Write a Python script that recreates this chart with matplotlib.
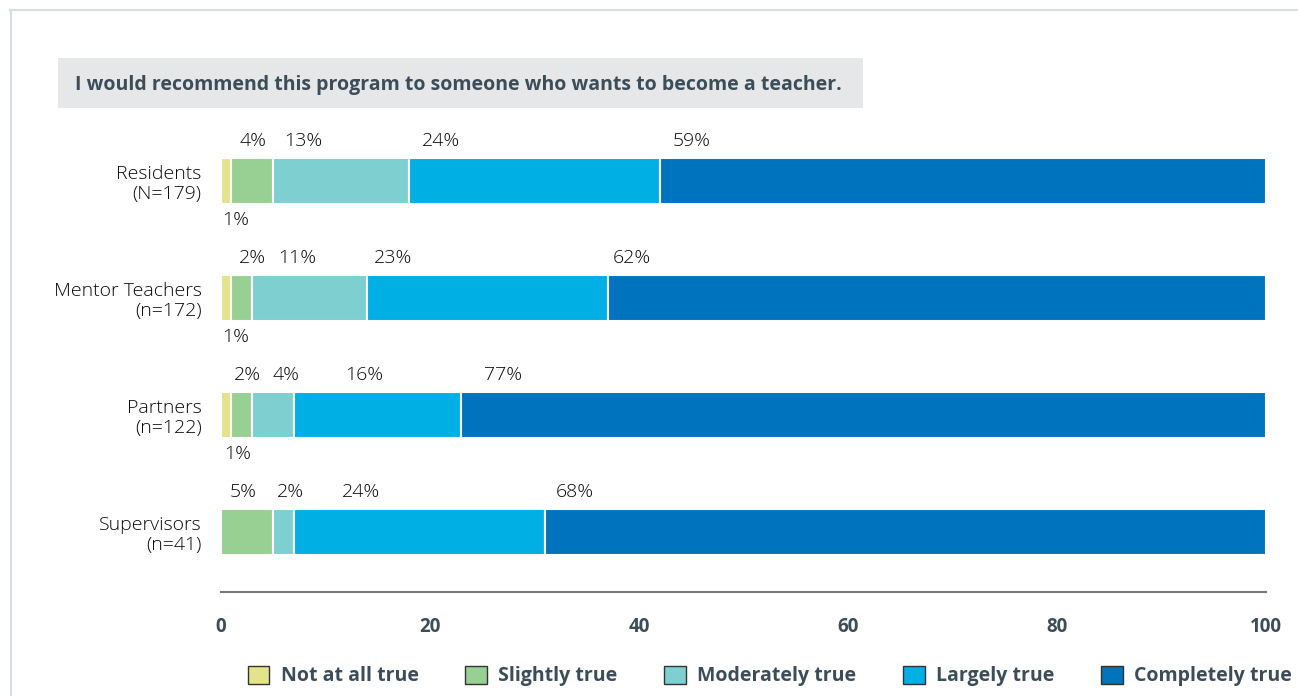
import matplotlib.pyplot as plt
from matplotlib.patches import Patch, Rectangle
from matplotlib.lines import Line2D
import numpy as np

plt.rcParams["font.family"] = ["Open Sans", "DejaVu Sans"]

# data
groups = ['Residents\n(N=179)', 'Mentor Teachers\n(n=172)', 'Partners\n(n=122)', 'Supervisors\n(n=41)']
responses = ['Not at all true', 'Slightly true', 'Moderately true', 'Largely true', 'Completely true']
# segment widths as drawn (percent)
not_at_all = [1, 1, 1, 0]
slightly = [4, 2, 2, 5]
moderately = [13, 11, 4, 2]
largely = [24, 23, 16, 24]
completely = [58, 63, 77, 69]
# printed labels
labels = [['1%', '4%', '13%', '24%', '59%'],
          ['1%', '2%', '11%', '23%', '62%'],
          ['1%', '2%', '4%', '16%', '77%'],
          ['', '5%', '2%', '24%', '68%']]
ticks = [0, 20, 40, 60, 80, 100]

colors = ['#e3e48a', '#98cf93', '#7dcfd0', '#00b0e4', '#0073bf']
# label nudges from segment start (manual placement in the original)
nudge = [[0.1, 0.8, 1.0, 1.2, 1.2],
         [0.1, 0.7, 2.5, 0.6, 0.5],
         [0.3, 0.2, 1.9, 4.9, 2.2],
         [0.0, 0.8, 0.3, 4.6, 1.0]]

title_col = '#3b4d58'
text_col = '#0a0a0a'
fig = plt.figure(figsize=(12.98, 6.96), dpi=100, facecolor='white')
ax = fig.add_axes([221 / 1298, 104 / 696, 1045 / 1298, 472 / 696])

series = [not_at_all, slightly, moderately, largely, completely]
y = np.arange(len(groups))
left = np.zeros(len(groups))
starts = []
for vals, c in zip(series, colors):
    vals = np.array(vals, dtype=float)
    ax.barh(y, vals, left=left, height=0.4, color=c, edgecolor='white', linewidth=1.5)
    starts.append(left.copy())
    left += vals

for gi in range(len(groups)):
    for si in range(len(series)):
        txt = labels[gi][si]
        if not txt:
            continue
        x = starts[si][gi] + nudge[gi][si]
        if si == 0:
            ax.text(x, y[gi] + 0.33, txt, ha='left', va='center', fontsize=14,
                    fontweight='light', color=text_col)
        else:
            ax.text(x, y[gi] - 0.345, txt, ha='left', va='center', fontsize=14,
                    fontweight='light', color=text_col)

ax.set_xlim(0, 100)
ax.set_ylim(3.513, -0.521)
ax.set_yticks(y)
ax.set_yticklabels(groups, fontsize=14, fontweight='light', color=text_col, linespacing=1.15)
ax.set_xticks(ticks)
ax.set_xticklabels([str(t) for t in ticks], fontsize=13.5, fontweight='bold', color=title_col)
ax.tick_params(axis='both', length=0)
ax.tick_params(axis='y', pad=14)
ax.tick_params(axis='x', pad=18)
for s in ['top', 'right', 'left']:
    ax.spines[s].set_visible(False)
ax.spines['bottom'].set_color('#777777')
ax.spines['bottom'].set_linewidth(1.5)

# title box
fig.patches.append(Rectangle((58 / 1298, (696 - 108) / 696), 805 / 1298, 50 / 696,
                             transform=fig.transFigure, facecolor='#e6e7e8', edgecolor='none'))
fig.text(75 / 1298, (696 - 85) / 696, 'I would recommend this program to someone who wants to become a teacher.',
         fontsize=14, fontweight='bold', color=title_col, ha='left', va='center')

# frame border (top and left)
fig.lines.append(Line2D([10 / 1298, 1], [1 - 9.5 / 696, 1 - 9.5 / 696], transform=fig.transFigure,
                        color='#d6dde3', linewidth=1.5))
fig.lines.append(Line2D([10.5 / 1298, 10.5 / 1298], [0, 1 - 9.5 / 696], transform=fig.transFigure,
                        color='#d6dde3', linewidth=1.5))

handles = [Patch(facecolor=c, edgecolor='#333333', linewidth=1) for c in colors]
fig.legend(handles, responses, loc='center', bbox_to_anchor=(770 / 1298, 20 / 696), ncol=5,
           frameon=False, handlelength=1.1, handleheight=1.1, handletextpad=0.6, columnspacing=2.4,
           prop={'size': 14, 'weight': 'bold'}, labelcolor=title_col)

fig.savefig('out.png', dpi=100, facecolor='white')
